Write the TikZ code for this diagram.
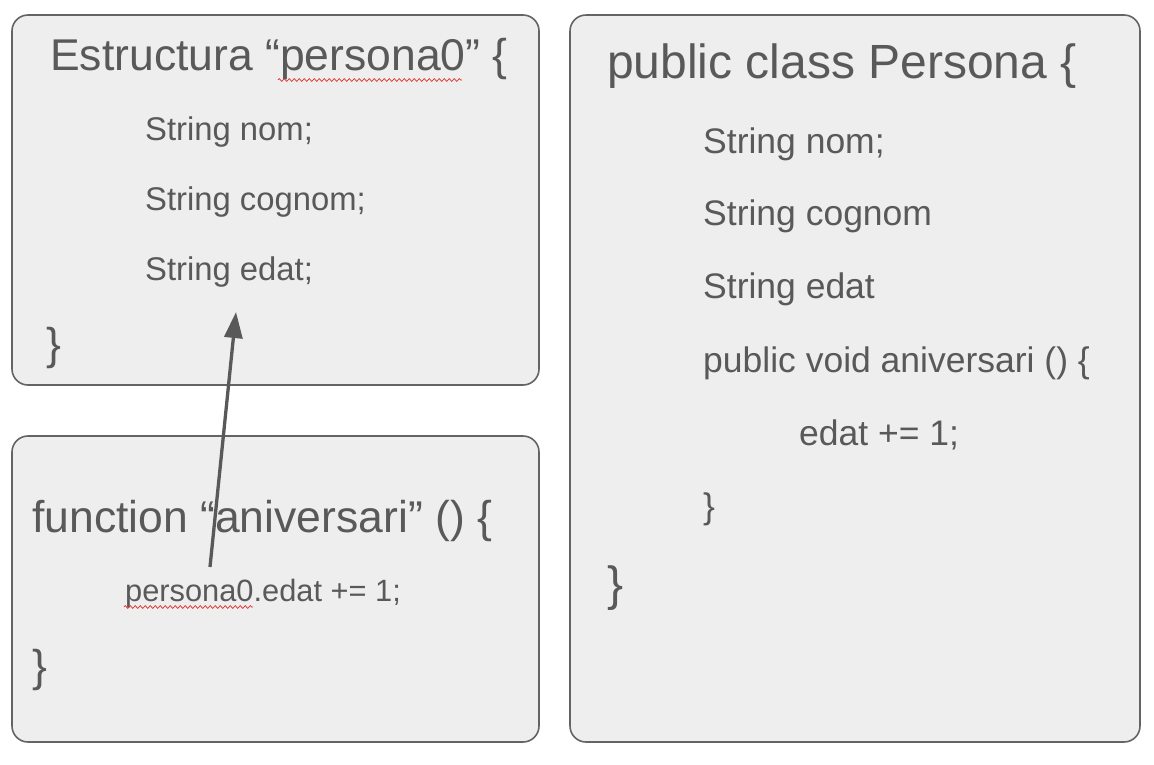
\documentclass[tikz,border=0pt]{standalone}
\usepackage{fontspec}
\setmainfont{Liberation Sans}
\usetikzlibrary{arrows.meta,decorations.pathmorphing}

\begin{document}
\begin{tikzpicture}[x=1pt,y=-1pt]
	\definecolor{boxfill}{RGB}{238,238,238}
	\definecolor{boxline}{RGB}{100,100,100}
	\definecolor{codetext}{RGB}{89,89,89}
	\definecolor{spellred}{RGB}{225,45,45}

	\tikzset{
		codebox/.style={draw=boxline, fill=boxfill, line width=1.6pt, rounded corners=16pt},
		code/.style={anchor=base west, inner sep=0pt, text=codetext},
		spell/.style={draw=spellred, line width=0.7pt, decorate,
			decoration={zigzag, segment length=5pt, amplitude=1.4pt}}
	}

	\useasboundingbox (0,0) rectangle (1154,764);

	%% Draw boxes
	\draw[codebox] (12,15)  rectangle (539,385);
	\draw[codebox] (12,436) rectangle (539,742);
	\draw[codebox] (570,15) rectangle (1140,742);

	%% Draw text of struct
	\node[code, font=\fontsize{44.5}{54}\selectfont] (estTitle)  at (50,70)   {Estructura “persona0” \{};
	\node[code, font=\fontsize{32.8}{39}\selectfont] (estNom)    at (145,140) {String nom;};
	\node[code, font=\fontsize{32.8}{39}\selectfont] (estCognom) at (145,210) {String cognom;};
	\node[code, font=\fontsize{32.8}{39}\selectfont] (estEdat)   at (145,280) {String edat;};
	\node[code, font=\fontsize{44.5}{54}\selectfont] (estEnd)    at (46,359)  {\}};

	%% Draw text of function
	\node[code, font=\fontsize{44.5}{54}\selectfont] (funTitle)  at (32,532)  {function “aniversari” () \{};
	\node[code, font=\fontsize{30.8}{37}\selectfont] (funBody)   at (125,601) {persona0.edat += 1;};
	\node[code, font=\fontsize{44.5}{54}\selectfont] (funEnd)    at (32,681)  {\}};

	%% Draw text of class
	\node[code, font=\fontsize{48}{58}\selectfont]   (clsTitle)  at (607,78)  {public class Persona \{};
	\node[code, font=\fontsize{35.5}{43}\selectfont] (clsNom)    at (703,153) {String nom;};
	\node[code, font=\fontsize{35.5}{43}\selectfont] (clsCognom) at (703,225) {String cognom};
	\node[code, font=\fontsize{35.5}{43}\selectfont] (clsEdat)   at (703,298) {String edat};
	\node[code, font=\fontsize{35.5}{43}\selectfont] (clsMethod) at (703,372) {public void aniversari () \{};
	\node[code, font=\fontsize{35.5}{43}\selectfont] (clsBody)   at (799,445) {edat += 1;};
	\node[code, font=\fontsize{35.5}{43}\selectfont] (clsMEnd)   at (703,518) {\}};
	\node[code, font=\fontsize{48}{58}\selectfont]   (clsEnd)    at (607,600) {\}};

	%% Draw spelling marks
	\draw[spell] (278,80)  -- (462,80);
	\draw[spell] (124,607) -- (253,607);

	%% Draw arrow
	\coordinate (edatTail) at (210,567);
	\coordinate (edatHead) at (236,312);
	\draw[draw=codetext, line width=3.3pt, -{Triangle[length=26pt,width=18pt]}] (edatTail) -- (edatHead);
\end{tikzpicture}
\end{document}
